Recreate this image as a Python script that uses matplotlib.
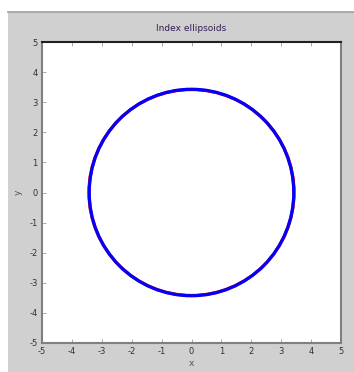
import numpy as np
import matplotlib
matplotlib.use('Agg')
import matplotlib.pyplot as plt
from matplotlib.patches import Ellipse, Rectangle

plt.rcParams['axes.unicode_minus'] = False

# Index ellipsoid cross-sections (semi-axes)
center_x = [0.0, 0.0]
center_y = [0.0, 0.0]
semi_x = [3.43, 3.42]   # red, blue
semi_y = [3.42, 3.43]
colors = ['red', 'blue']

ticks = [-5, -4, -3, -2, -1, 0, 1, 2, 3, 4, 5]

fig = plt.figure(figsize=(3.54, 3.72), dpi=100)
fig.patch.set_facecolor('white')

# grey window background
bg = Rectangle((8/354, 0), 1 - 8/354, 1 - 12/372, transform=fig.transFigure,
               facecolor='#d0d0d0', edgecolor='none', zorder=-10)
fig.patches.append(bg)
fig.add_artist(plt.Line2D([8/354, 1], [1 - 12/372, 1 - 12/372],
                          transform=fig.transFigure, color='#a0a0a0', lw=1.2))

ax = fig.add_axes([42/354, 1 - 343/372, 299/354, 301/372])
ax.set_facecolor('white')

for i in range(len(semi_x)):
    e = Ellipse((center_x[i], center_y[i]), 2*semi_x[i], 2*semi_y[i],
                fill=False, edgecolor=colors[i], lw=2.3)
    ax.add_patch(e)

ax.set_xlim(-5, 5)
ax.set_ylim(-5, 5)
ax.set_xticks(ticks)
ax.set_yticks(ticks)
ax.tick_params(direction='in', length=3, width=0.6, labelsize=6,
               colors='#9a9a9a', labelcolor='#303040', top=True, right=False, pad=3)

for s in ['left', 'bottom', 'right']:
    ax.spines[s].set_color('#808080')
    ax.spines[s].set_linewidth(1.5)
ax.spines['top'].set_color('#202020')
ax.spines['top'].set_linewidth(1.5)

ax.set_title('Index ellipsoids', fontsize=6.5, color='#302050', pad=8)
ax.set_xlabel('x', fontsize=6.5, color='#505060', labelpad=2)
ax.set_ylabel('y', fontsize=6.5, color='#505060', labelpad=5)

fig.savefig('out.png', dpi=100)
